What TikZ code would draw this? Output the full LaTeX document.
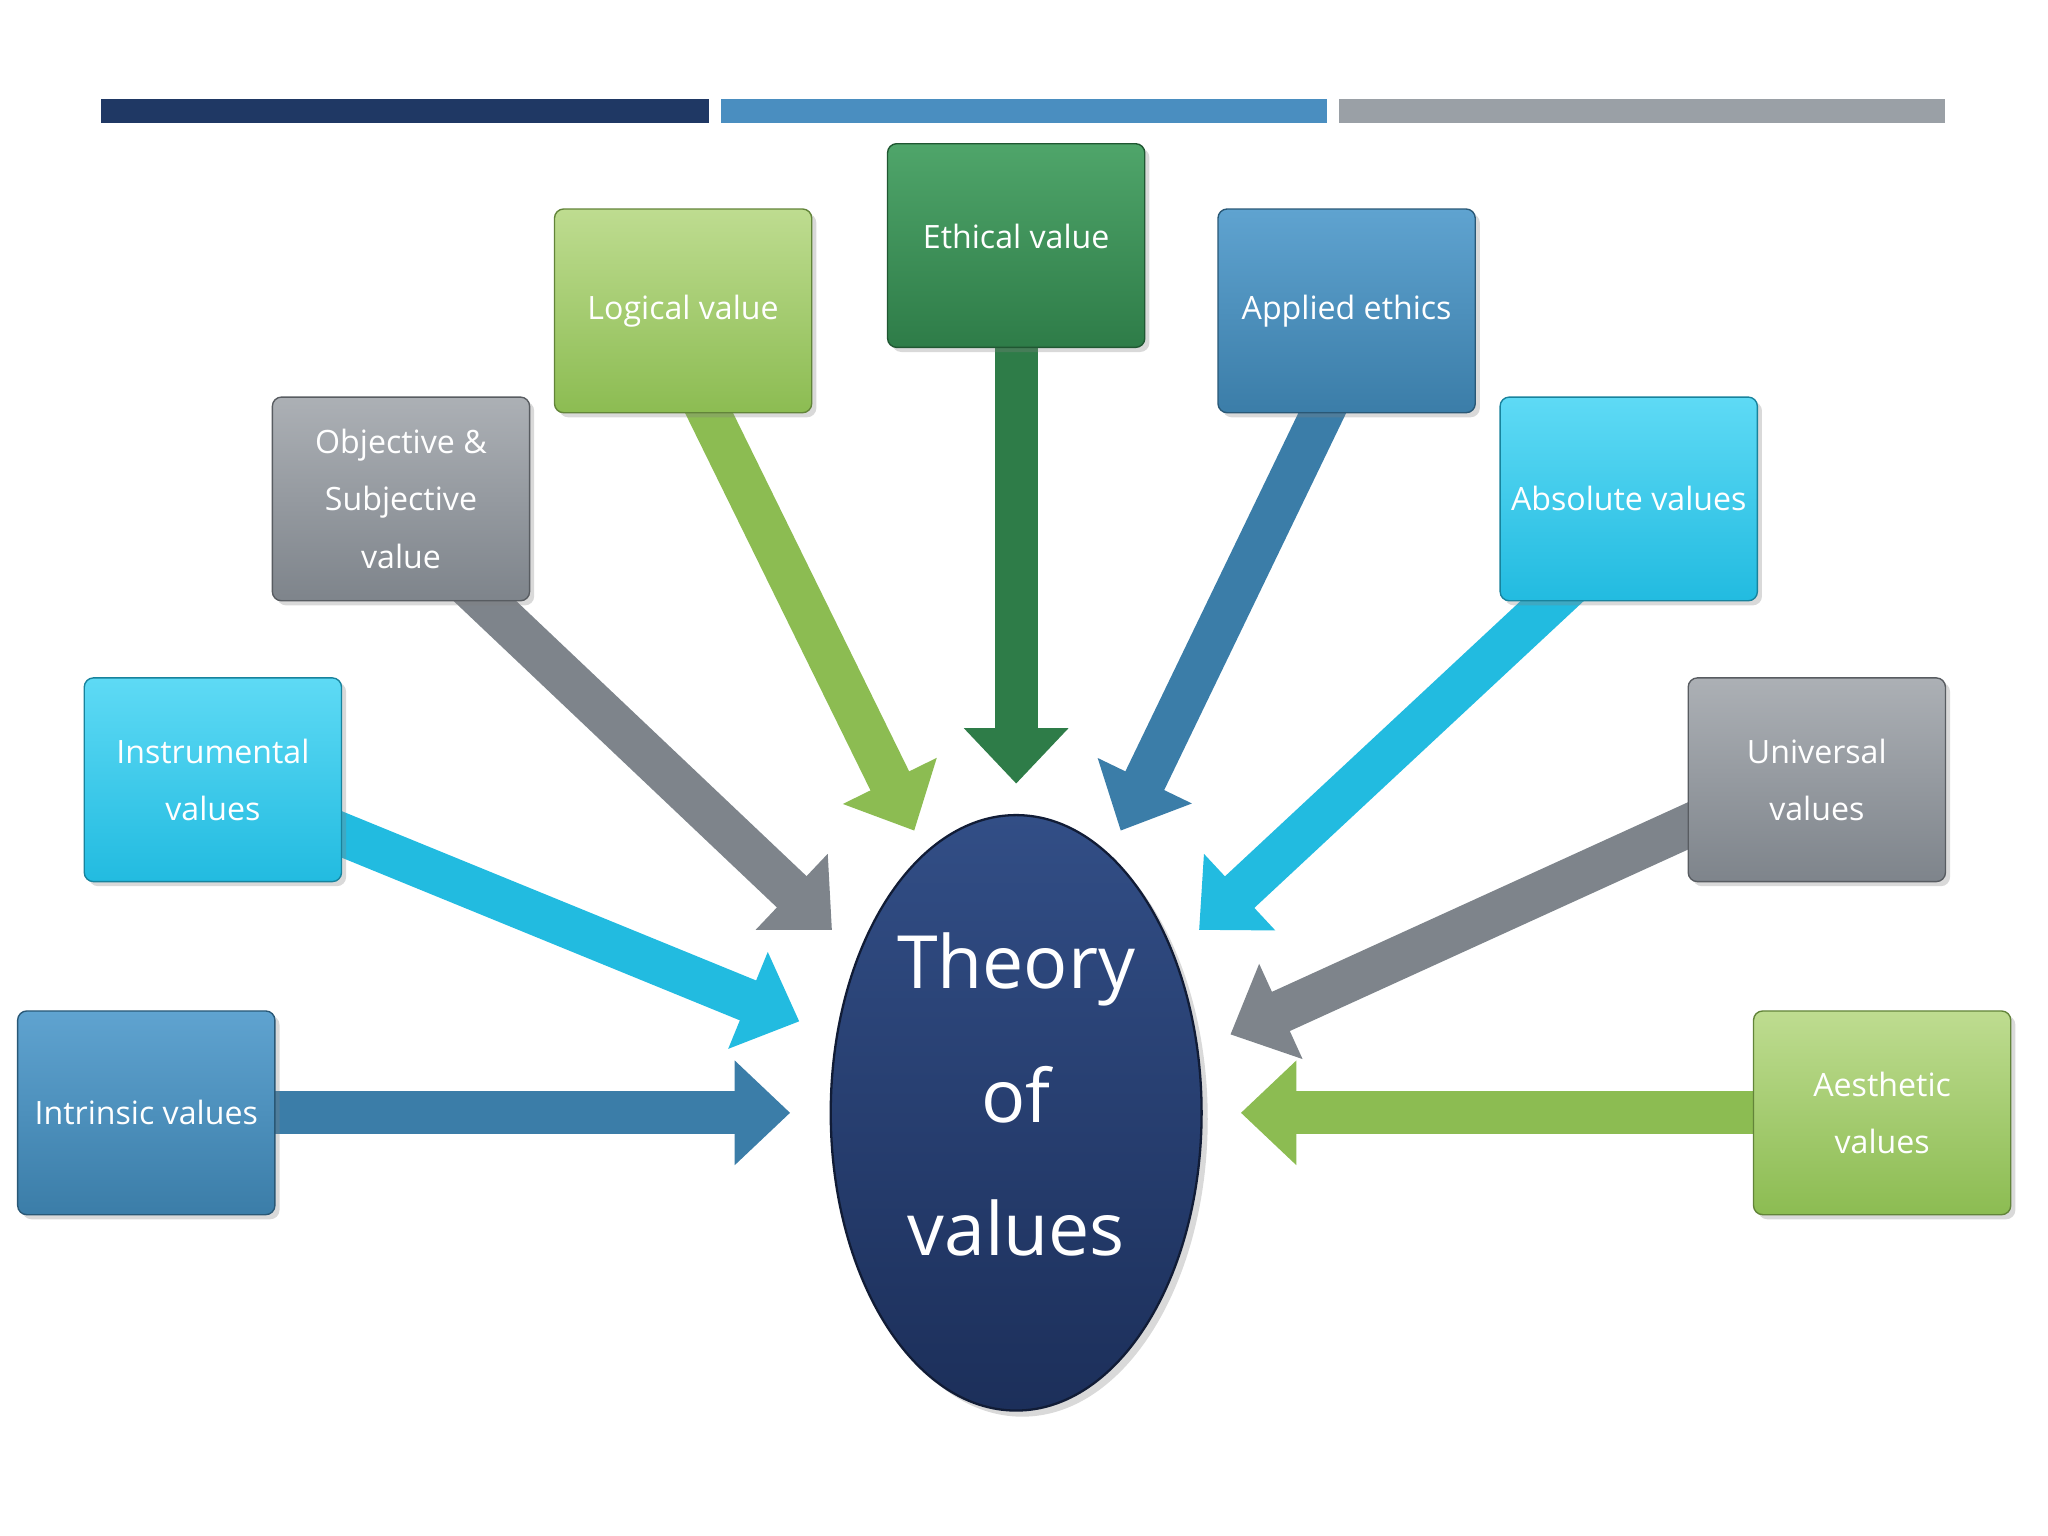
\documentclass[tikz,border=0pt]{standalone}
\usepackage{fontspec}
\setmainfont{Open Sans}
\usetikzlibrary{arrows.meta,shadows,shapes.geometric}
\definecolor{navy}{HTML}{1F3864}
\definecolor{bbar}{HTML}{4A8EC0}
\definecolor{gbar}{HTML}{9AA0A6}
\definecolor{steelT}{HTML}{5FA3D0}\definecolor{steelB}{HTML}{3B7DA8}
\definecolor{cyanT}{HTML}{5EDAF5}\definecolor{cyanB}{HTML}{22BBE0}
\definecolor{grayT}{HTML}{ACB0B5}\definecolor{grayB}{HTML}{7E848B}
\definecolor{lgT}{HTML}{BEDC90}\definecolor{lgB}{HTML}{8CBC52}
\definecolor{dgT}{HTML}{4FA56A}\definecolor{dgB}{HTML}{2E7C48}
\definecolor{ellT}{HTML}{324E86}\definecolor{ellB}{HTML}{1C2F5A}
\tikzset{
 vbox/.style={rounded corners=4pt,minimum width=3.94cm,minimum height=3.12cm,inner sep=1pt,
   align=center,text=white,font=\fontsize{14}{25}\selectfont,draw=#1B!70!black,line width=0.6pt,
   top color=#1T,bottom color=#1B,drop shadow={opacity=0.3,shadow xshift=2pt,shadow yshift=-2pt}},
 varr/.style={line width=0.66cm,draw=#1B,-{Triangle[length=0.85cm,width=1.55cm]}},
}
\begin{document}
\begin{tikzpicture}[x=0.02cm,y=-0.02cm]
\useasboundingbox (0,0) rectangle (1568,1176);
\fill[navy] (77,76) rectangle (543,94);
\fill[bbar] (552,76) rectangle (1016,94);
\fill[gbar] (1025,76) rectangle (1489,94);
\node[draw=ellB!60!black,line width=1pt,ellipse,inner sep=0pt,minimum width=5.68cm,minimum height=9.12cm,top color=ellT,bottom color=ellB,
  drop shadow={opacity=0.3}] (c) at (778,852) {};
\node[text=white,align=center,font=\fontsize{32}{58}\selectfont] (ct) at (778,838) {Theory\\of\\values};
\coordinate (t1) at (605,852);\coordinate (t2) at (612,782);\coordinate (t3) at (637,712);
\coordinate (t4) at (700,636);\coordinate (t5) at (778,600);\coordinate (t6) at (858,636);
\coordinate (t7) at (918,712);\coordinate (t8) at (942,792);\coordinate (t9) at (950,852);
\coordinate (s1) at (190,852);\coordinate (s2) at (240,630);\coordinate (s3) at (350,440);
\coordinate (s4) at (530,290);\coordinate (s5) at (778,240);\coordinate (s6) at (1025,290);
\coordinate (s7) at (1210,440);\coordinate (s8) at (1315,622);\coordinate (s9) at (1365,852);
\draw[varr=steel] (s1)--(t1);
\draw[varr=cyan] (s2)--(t2);
\draw[varr=gray] (s3)--(t3);
\draw[varr=lg] (s4)--(t4);
\draw[varr=dg] (s5)--(t5);
\draw[varr=steel] (s6)--(t6);
\draw[varr=cyan] (s7)--(t7);
\draw[varr=gray] (s8)--(t8);
\draw[varr=lg] (s9)--(t9);
\node[vbox=steel] (b1) at (112,852) {Intrinsic values};
\node[vbox=cyan] (b2) at (163,597) {Instrumental\\values};
\node[vbox=gray] (b3) at (307,382) {Objective \&\\Subjective\\value};
\node[vbox=lg] (b4) at (523,238) {Logical value};
\node[vbox=dg] (b5) at (778,188) {};
\node[text=white,font=\fontsize{14}{25}\selectfont] (l5) at (778,181) {Ethical value};
\node[vbox=steel] (b6) at (1031,238) {Applied ethics};
\node[vbox=cyan] (b7) at (1247,382) {Absolute values};
\node[vbox=gray] (b8) at (1391,597) {Universal\\values};
\node[vbox=lg] (b9) at (1441,852) {Aesthetic\\values};
\end{tikzpicture}
\end{document}
